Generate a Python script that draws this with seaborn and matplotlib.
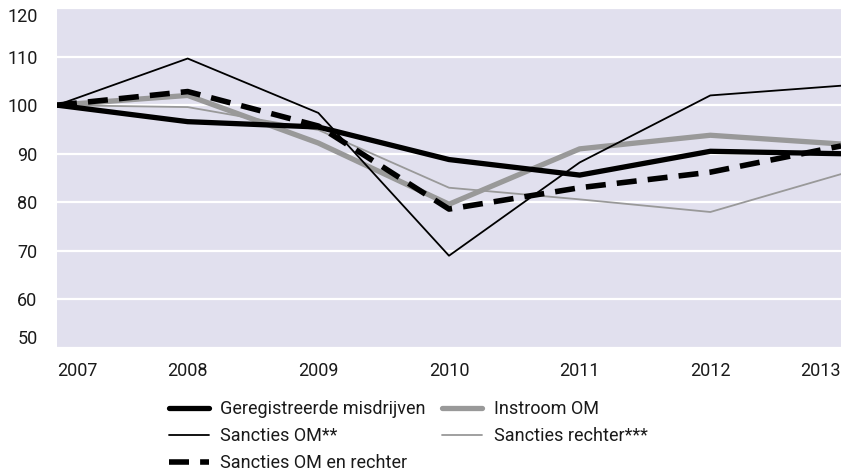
import pandas as pd
import matplotlib
matplotlib.use("Agg")
import matplotlib.pyplot as plt
import seaborn as sns

# index 2007 = 100
years = [2007, 2008, 2009, 2010, 2011, 2012, 2013]
geregistreerd = [100, 96.6, 95.5, 88.8, 85.6, 90.5, 90.0]
instroom_om = [100, 102.0, 92.2, 79.6, 91.0, 93.8, 92.0]
sancties_om = [100, 109.6, 98.4, 69.0, 88.2, 102.0, 104.0]
sancties_rechter = [100, 99.6, 94.9, 83.0, 80.6, 78.0, 85.8]
sancties_om_rechter = [100, 102.8, 95.7, 78.6, 83.0, 86.2, 91.6]
y_ticks = [50, 60, 70, 80, 90, 100, 110, 120]

sns.set_theme(style="darkgrid")
plt.rcParams["font.family"] = ["Roboto", "DejaVu Sans"]

fig = plt.figure(figsize=(8.41, 4.75), dpi=100)
ax = fig.add_axes([57 / 841, 1 - 348 / 475, 1 - 57 / 841, 340 / 475])
ax.set_facecolor("#e1e0ee")

grey = "#999999"
sns.lineplot(x=years, y=instroom_om, ax=ax, color=grey, linewidth=3.8,
             label="Instroom OM")
sns.lineplot(x=years, y=sancties_rechter, ax=ax, color=grey, linewidth=1.3,
             label="Sancties rechter***")
sns.lineplot(x=years, y=geregistreerd, ax=ax, color="black", linewidth=3.8,
             label="Geregistreerde misdrijven")
sns.lineplot(x=years, y=sancties_om_rechter, ax=ax, color="black", linewidth=4.0,
             linestyle=(0, (3.6, 2.0)), label="Sancties OM en rechter")
sns.lineplot(x=years, y=sancties_om, ax=ax, color="black", linewidth=1.3,
             label="Sancties OM**")

ax.set_xlim(2007, 2013)
ax.set_ylim(50, 120)
ax.set_yticks(y_ticks)
ax.set_xticks(years)
ax.set_xticklabels([str(y) for y in years])
ax.grid(axis="x", visible=False)
ax.grid(axis="y", color="white", linewidth=1.6)
for s in ax.spines.values():
    s.set_visible(False)
ax.tick_params(axis="y", length=0, pad=14, labelsize=13, labelcolor="#1a1a1a")
ax.tick_params(axis="x", length=0, pad=10, labelsize=13, labelcolor="#1a1a1a")
xlabels = ax.get_xticklabels()
xlabels[0].set_ha("left")
xlabels[-1].set_ha("right")
ylabels = ax.get_yticklabels()
ylabels[0].set_va("bottom")
ylabels[-1].set_va("top")
ax.set_xlabel("")
ax.set_ylabel("")

handles, names = ax.get_legend_handles_labels()
lookup = dict(zip(names, handles))
order = ["Geregistreerde misdrijven", "Sancties OM**", "Sancties OM en rechter",
         "Instroom OM", "Sancties rechter***"]
ax.legend([lookup[n] for n in order], order, ncol=2, frameon=False,
          loc="upper left", bbox_to_anchor=(169 / 841, 1 - 400 / 475),
          bbox_transform=fig.transFigure, borderaxespad=0, borderpad=0,
          fontsize=13, handlelength=2.2, handletextpad=0.65,
          columnspacing=0.9, labelspacing=0.5, labelcolor="#1a1a1a")

fig.savefig("out.png", dpi=100)
